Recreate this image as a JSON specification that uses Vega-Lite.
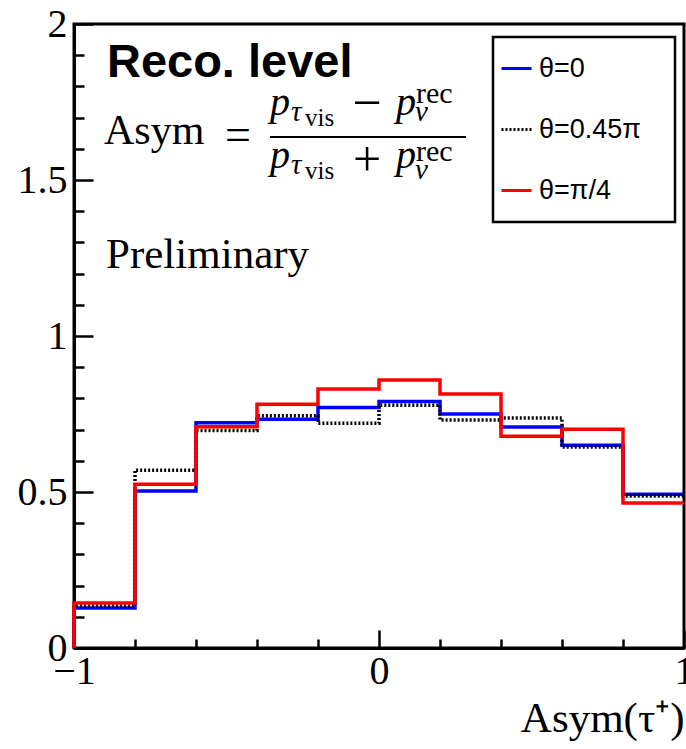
{
  "$schema": "https://vega.github.io/schema/vega-lite/v6.json",
  "width": 610,
  "height": 624,
  "autosize": {"type": "none"},
  "padding": {"left": 74, "top": 24, "right": 2, "bottom": 101},
  "background": "white",
  "config": {
    "view": {"stroke": "black", "strokeWidth": 3},
    "font": "Liberation Serif",
    "axis": {"grid": false, "domainColor": "black", "domainWidth": 3, "tickColor": "black", "labelColor": "black", "titleColor": "black", "labelFont": "Liberation Serif", "titleFont": "Liberation Serif", "labelFontWeight": "normal", "titleFontWeight": "normal"}
  },
  "datasets": {
    "hist": [
      {"series": "θ=0", "edge": -1.0, "value": 0.0},
      {"series": "θ=0", "edge": -1.0, "value": 0.128},
      {"series": "θ=0", "edge": -0.8, "value": 0.503},
      {"series": "θ=0", "edge": -0.6, "value": 0.722},
      {"series": "θ=0", "edge": -0.4, "value": 0.733},
      {"series": "θ=0", "edge": -0.2, "value": 0.771},
      {"series": "θ=0", "edge": 0.0, "value": 0.790},
      {"series": "θ=0", "edge": 0.2, "value": 0.750},
      {"series": "θ=0", "edge": 0.4, "value": 0.708},
      {"series": "θ=0", "edge": 0.6, "value": 0.650},
      {"series": "θ=0", "edge": 0.8, "value": 0.493},
      {"series": "θ=0", "edge": 1.0, "value": 0.493},
      {"series": "θ=0.45π", "edge": -1.0, "value": 0.0},
      {"series": "θ=0.45π", "edge": -1.0, "value": 0.135},
      {"series": "θ=0.45π", "edge": -0.8, "value": 0.570},
      {"series": "θ=0.45π", "edge": -0.6, "value": 0.697},
      {"series": "θ=0.45π", "edge": -0.4, "value": 0.744},
      {"series": "θ=0.45π", "edge": -0.2, "value": 0.720},
      {"series": "θ=0.45π", "edge": 0.0, "value": 0.778},
      {"series": "θ=0.45π", "edge": 0.2, "value": 0.731},
      {"series": "θ=0.45π", "edge": 0.4, "value": 0.737},
      {"series": "θ=0.45π", "edge": 0.6, "value": 0.644},
      {"series": "θ=0.45π", "edge": 0.8, "value": 0.487},
      {"series": "θ=0.45π", "edge": 1.0, "value": 0.487},
      {"series": "θ=π/4", "edge": -1.0, "value": 0.0},
      {"series": "θ=π/4", "edge": -1.0, "value": 0.144},
      {"series": "θ=π/4", "edge": -0.8, "value": 0.525},
      {"series": "θ=π/4", "edge": -0.6, "value": 0.709},
      {"series": "θ=π/4", "edge": -0.4, "value": 0.781},
      {"series": "θ=π/4", "edge": -0.2, "value": 0.830},
      {"series": "θ=π/4", "edge": 0.0, "value": 0.859},
      {"series": "θ=π/4", "edge": 0.2, "value": 0.814},
      {"series": "θ=π/4", "edge": 0.4, "value": 0.679},
      {"series": "θ=π/4", "edge": 0.6, "value": 0.701},
      {"series": "θ=π/4", "edge": 0.8, "value": 0.465},
      {"series": "θ=π/4", "edge": 1.0, "value": 0.465}
    ],
    "one": [{}]
  },
  "resolve": {"axis": {"x": "independent", "y": "independent"}},
  "layer": [
    {
      "data": {"name": "one"},
      "mark": {"type": "rect", "fill": "white", "stroke": "black", "strokeWidth": 2.5},
      "encoding": {
        "x": {"datum": 0.3738, "type": "quantitative", "scale": {"domain": [-1, 1], "nice": false, "zero": false},
          "axis": {"orient": "bottom", "values": [-0.8, -0.6, -0.4, -0.2, 0.2, 0.4, 0.6, 0.8], "labels": false, "domain": false, "tickSize": -9, "tickWidth": 2.5, "title": null}},
        "x2": {"datum": 0.9705},
        "y": {"datum": 1.9583, "type": "quantitative", "scale": {"domain": [0, 2], "nice": false, "zero": false},
          "axis": {"orient": "left", "values": [0.1, 0.2, 0.3, 0.4, 0.6, 0.7, 0.8, 0.9, 1.1, 1.2, 1.3, 1.4, 1.6, 1.7, 1.8, 1.9], "labels": false, "domain": false, "tickSize": -10, "tickWidth": 2.5, "title": null}},
        "y2": {"datum": 1.3654}
      }
    },
    {
      "data": {"name": "hist"},
      "mark": {"type": "line", "interpolate": "step-after", "strokeWidth": 3.5},
      "encoding": {
        "x": {"field": "edge", "type": "quantitative",
          "axis": {"orient": "bottom", "values": [-1, 0, 1], "format": "~g", "tickSize": -18, "tickWidth": 2.5, "labelFontSize": 40, "labelPadding": 21, "labelFlush": false, "labelOverlap": false, "labelBound": false, "title": "Asym(τ⁺)", "titleFontSize": 43, "titleAnchor": "end", "titleAlign": "right", "titlePadding": 6}},
        "y": {"field": "value", "type": "quantitative",
          "axis": {"orient": "left", "values": [0, 0.5, 1, 1.5, 2], "format": "~g", "tickSize": -19, "tickWidth": 2.5, "labelFontSize": 40, "labelPadding": 26, "labelFlush": false, "labelOverlap": false, "labelBound": false, "title": null}},
        "color": {"field": "series", "type": "nominal", "sort": ["θ=0", "θ=0.45π", "θ=π/4"],
          "scale": {"domain": ["θ=0", "θ=0.45π", "θ=π/4"], "range": ["#0000ff", "#000000", "#ff0000"]},
          "legend": {"title": null, "orient": "none", "legendX": 426, "legendY": 28, "symbolType": "stroke", "symbolSize": 900, "symbolStrokeWidth": 3, "labelFont": "Liberation Sans", "labelFontSize": 27, "labelColor": "black", "labelOffset": 6, "rowPadding": 31, "padding": 0}},
        "strokeDash": {"field": "series", "type": "nominal",
          "scale": {"domain": ["θ=0", "θ=0.45π", "θ=π/4"], "range": [[1, 0], [2, 2], [1, 0]]},
          "legend": null},
        "order": {"value": null}
      }
    },
    {"data": {"name": "one"}, "mark": {"type": "text", "text": "Reco. level", "font": "Liberation Sans", "fontWeight": "bold", "fontSize": 47, "align": "left", "baseline": "alphabetic"},
      "encoding": {"x": {"datum": -0.892, "type": "quantitative", "axis": null}, "y": {"datum": 1.830, "type": "quantitative", "axis": null}}},
    {"data": {"name": "one"}, "mark": {"type": "text", "text": "Asym", "fontSize": 42, "align": "left", "baseline": "alphabetic"},
      "encoding": {"x": {"datum": -0.9016, "type": "quantitative", "axis": null}, "y": {"datum": 1.6154, "type": "quantitative", "axis": null}}},
    {"data": {"name": "one"}, "mark": {"type": "text", "text": "=", "fontSize": 46, "align": "center", "baseline": "middle"},
      "encoding": {"x": {"datum": -0.462, "type": "quantitative", "axis": null}, "y": {"datum": 1.641, "type": "quantitative", "axis": null}}},
    {"data": {"name": "one"}, "mark": {"type": "rule", "color": "black", "strokeWidth": 2},
      "encoding": {"x": {"datum": -0.3574, "type": "quantitative", "axis": null}, "x2": {"datum": 0.285}, "y": {"datum": 1.6378, "type": "quantitative", "axis": null}}},
    {"data": {"name": "one"}, "mark": {"type": "text", "text": "p", "fontSize": 40, "fontStyle": "italic", "align": "left", "baseline": "alphabetic"},
      "encoding": {"x": {"datum": -0.3574, "type": "quantitative", "axis": null}, "y": {"datum": 1.7083, "type": "quantitative", "axis": null}}},
    {"data": {"name": "one"}, "mark": {"type": "text", "text": "τ", "fontSize": 29, "fontStyle": "italic", "align": "left", "baseline": "alphabetic"},
      "encoding": {"x": {"datum": -0.2885, "type": "quantitative", "axis": null}, "y": {"datum": 1.6891, "type": "quantitative", "axis": null}}},
    {"data": {"name": "one"}, "mark": {"type": "text", "text": "vis", "fontSize": 25, "align": "left", "baseline": "alphabetic"},
      "encoding": {"x": {"datum": -0.2426, "type": "quantitative", "axis": null}, "y": {"datum": 1.6731, "type": "quantitative", "axis": null}}},
    {"data": {"name": "one"}, "mark": {"type": "text", "text": "−", "fontSize": 52, "align": "center", "baseline": "middle"},
      "encoding": {"x": {"datum": -0.0393, "type": "quantitative", "axis": null}, "y": {"datum": 1.7436, "type": "quantitative", "axis": null}}},
    {"data": {"name": "one"}, "mark": {"type": "text", "text": "p", "fontSize": 40, "fontStyle": "italic", "align": "left", "baseline": "alphabetic"},
      "encoding": {"x": {"datum": 0.0557, "type": "quantitative", "axis": null}, "y": {"datum": 1.7083, "type": "quantitative", "axis": null}}},
    {"data": {"name": "one"}, "mark": {"type": "text", "text": "rec", "fontSize": 30, "align": "left", "baseline": "alphabetic"},
      "encoding": {"x": {"datum": 0.121, "type": "quantitative", "axis": null}, "y": {"datum": 1.7468, "type": "quantitative", "axis": null}}},
    {"data": {"name": "one"}, "mark": {"type": "text", "text": "ν", "fontSize": 29, "fontStyle": "italic", "align": "left", "baseline": "alphabetic"},
      "encoding": {"x": {"datum": 0.118, "type": "quantitative", "axis": null}, "y": {"datum": 1.6891, "type": "quantitative", "axis": null}}},
    {"data": {"name": "one"}, "mark": {"type": "text", "text": "p", "fontSize": 40, "fontStyle": "italic", "align": "left", "baseline": "alphabetic"},
      "encoding": {"x": {"datum": -0.3574, "type": "quantitative", "axis": null}, "y": {"datum": 1.5385, "type": "quantitative", "axis": null}}},
    {"data": {"name": "one"}, "mark": {"type": "text", "text": "τ", "fontSize": 29, "fontStyle": "italic", "align": "left", "baseline": "alphabetic"},
      "encoding": {"x": {"datum": -0.2885, "type": "quantitative", "axis": null}, "y": {"datum": 1.5192, "type": "quantitative", "axis": null}}},
    {"data": {"name": "one"}, "mark": {"type": "text", "text": "vis", "fontSize": 25, "align": "left", "baseline": "alphabetic"},
      "encoding": {"x": {"datum": -0.2426, "type": "quantitative", "axis": null}, "y": {"datum": 1.5032, "type": "quantitative", "axis": null}}},
    {"data": {"name": "one"}, "mark": {"type": "text", "text": "+", "fontSize": 50, "align": "center", "baseline": "middle"},
      "encoding": {"x": {"datum": -0.0393, "type": "quantitative", "axis": null}, "y": {"datum": 1.5609, "type": "quantitative", "axis": null}}},
    {"data": {"name": "one"}, "mark": {"type": "text", "text": "p", "fontSize": 40, "fontStyle": "italic", "align": "left", "baseline": "alphabetic"},
      "encoding": {"x": {"datum": 0.0557, "type": "quantitative", "axis": null}, "y": {"datum": 1.5385, "type": "quantitative", "axis": null}}},
    {"data": {"name": "one"}, "mark": {"type": "text", "text": "rec", "fontSize": 30, "align": "left", "baseline": "alphabetic"},
      "encoding": {"x": {"datum": 0.121, "type": "quantitative", "axis": null}, "y": {"datum": 1.5609, "type": "quantitative", "axis": null}}},
    {"data": {"name": "one"}, "mark": {"type": "text", "text": "ν", "fontSize": 29, "fontStyle": "italic", "align": "left", "baseline": "alphabetic"},
      "encoding": {"x": {"datum": 0.118, "type": "quantitative", "axis": null}, "y": {"datum": 1.5032, "type": "quantitative", "axis": null}}},
    {"data": {"name": "one"}, "mark": {"type": "text", "text": "Preliminary", "fontSize": 43, "align": "left", "baseline": "alphabetic"},
      "encoding": {"x": {"datum": -0.895, "type": "quantitative", "axis": null}, "y": {"datum": 1.218, "type": "quantitative", "axis": null}}}
  ]
}
